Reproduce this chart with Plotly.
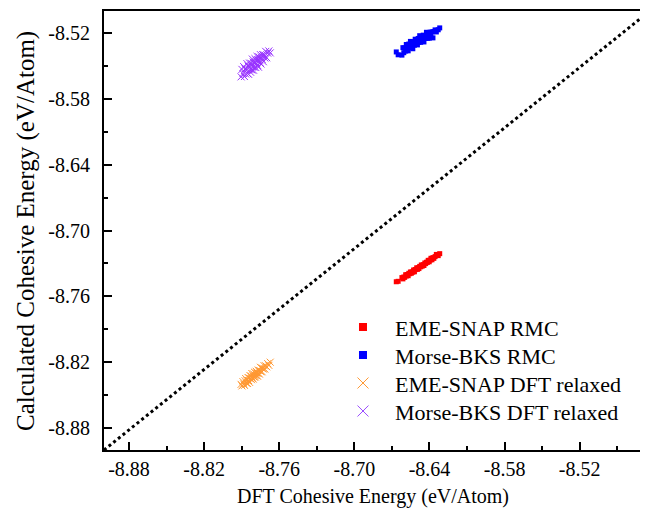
import plotly.graph_objects as go

# ---- data ----
rmc_dft_x = [-8.6665, -8.6650, -8.6620, -8.6612, -8.6605, -8.6598, -8.6590, -8.6585, -8.6578, -8.6570,
             -8.6565, -8.6558, -8.6552, -8.6545, -8.6540, -8.6533, -8.6527, -8.6520, -8.6514, -8.6508,
             -8.6502, -8.6496, -8.6490, -8.6484, -8.6478, -8.6470, -8.6465, -8.6458, -8.6450, -8.6444,
             -8.6437, -8.6430, -8.6424, -8.6416, -8.6410, -8.6402, -8.6395, -8.6388, -8.6380, -8.6372,
             -8.6365, -8.6355, -8.6345, -8.6330, -8.6318]

eme_snap_rmc_y = [-8.7467, -8.7463, -8.7429, -8.7441, -8.7424, -8.7427, -8.7403, -8.7415, -8.7401, -8.7412,
                  -8.7390, -8.7394, -8.7378, -8.7390, -8.7378, -8.7379, -8.7360, -8.7376, -8.7356, -8.7356,
                  -8.7340, -8.7354, -8.7339, -8.7347, -8.7327, -8.7331, -8.7314, -8.7325, -8.7311, -8.7319,
                  -8.7296, -8.7302, -8.7289, -8.7290, -8.7272, -8.7285, -8.7270, -8.7253, -8.7267, -8.7247,
                  -8.7254, -8.7238, -8.7218, -8.7229, -8.7211]

morse_bks_rmc_y = [-8.5373, -8.5399, -8.5402, -8.5334, -8.5380, -8.5336, -8.5365, -8.5305, -8.5342, -8.5363,
                   -8.5301, -8.5324, -8.5277, -8.5333, -8.5297, -8.5344, -8.5283, -8.5312, -8.5257, -8.5295,
                   -8.5278, -8.5309, -8.5250, -8.5286, -8.5225, -8.5285, -8.5247, -8.5260, -8.5220, -8.5282,
                   -8.5223, -8.5249, -8.5194, -8.5249, -8.5218, -8.5248, -8.5193, -8.5213, -8.5190, -8.5245,
                   -8.5187, -8.5172, -8.5191, -8.5171, -8.5154]

relaxed_dft_x = [-8.7905, -8.7898, -8.7890, -8.7884, -8.7878, -8.7873, -8.7868, -8.7862, -8.7858, -8.7853,
                 -8.7849, -8.7845, -8.7841, -8.7837, -8.7833, -8.7829, -8.7826, -8.7822, -8.7819, -8.7815,
                 -8.7812, -8.7808, -8.7805, -8.7801, -8.7798, -8.7794, -8.7791, -8.7787, -8.7784, -8.7780,
                 -8.7777, -8.7773, -8.7769, -8.7766, -8.7762, -8.7758, -8.7754, -8.7750, -8.7746, -8.7742,
                 -8.7737, -8.7732, -8.7727, -8.7721, -8.7715, -8.7708, -8.7700, -8.7692, -8.7683, -8.7672]

eme_snap_relaxed_y = [-8.8402, -8.8416, -8.8377, -8.8398, -8.8411, -8.8369, -8.8349, -8.8391, -8.8366, -8.8394,
                      -8.8340, -8.8367, -8.8344, -8.8384, -8.8323, -8.8347, -8.8327, -8.8359, -8.8303, -8.8343,
                      -8.8325, -8.8354, -8.8307, -8.8336, -8.8291, -8.8320, -8.8335, -8.8300, -8.8283, -8.8320,
                      -8.8299, -8.8328, -8.8274, -8.8300, -8.8274, -8.8309, -8.8276, -8.8246, -8.8287, -8.8253,
                      -8.8287, -8.8255, -8.8263, -8.8232, -8.8262, -8.8233, -8.8242, -8.8213, -8.8229, -8.8200]

morse_bks_relaxed_y = [-8.5600, -8.5532, -8.5570, -8.5507, -8.5597, -8.5528, -8.5574, -8.5528, -8.5480, -8.5569,
                       -8.5502, -8.5577, -8.5506, -8.5475, -8.5534, -8.5558, -8.5476, -8.5499, -8.5537, -8.5438,
                       -8.5509, -8.5466, -8.5540, -8.5470, -8.5512, -8.5434, -8.5471, -8.5515, -8.5450, -8.5479,
                       -8.5414, -8.5496, -8.5447, -8.5512, -8.5418, -8.5448, -8.5470, -8.5398, -8.5483, -8.5421,
                       -8.5440, -8.5398, -8.5462, -8.5399, -8.5428, -8.5368, -8.5426, -8.5384, -8.5364, -8.5382]

tick_vals = [-8.88, -8.82, -8.76, -8.70, -8.64, -8.58, -8.52]
tick_text = ["-8.88", "-8.82", "-8.76", "-8.70", "-8.64", "-8.58", "-8.52"]

series_names = ["EME-SNAP RMC", "Morse-BKS RMC", "EME-SNAP DFT relaxed", "Morse-BKS DFT relaxed"]
x_title = "DFT Cohesive Energy (eV/Atom)"
y_title = "Calculated Cohesive Energy (eV/Atom)"

X_RANGE = [-8.9, -8.4718]
Y_RANGE = [-8.9, -8.5]
DIAG_END = [-8.464, -8.5]

FONT = "Liberation Serif, Times New Roman, serif"

fig = go.Figure()

# diagonal reference line
fig.add_trace(go.Scatter(x=[X_RANGE[0], DIAG_END[0]], y=[Y_RANGE[0], DIAG_END[1]], mode="lines",
                         line=dict(color="black", width=3, dash="dot"), showlegend=False,
                         hoverinfo="skip"))

# data traces
fig.add_trace(go.Scatter(x=rmc_dft_x, y=eme_snap_rmc_y, mode="markers",
                         marker=dict(symbol="square", size=5, color="#FF0000", line=dict(width=0)),
                         showlegend=False, name=series_names[0]))
fig.add_trace(go.Scatter(x=rmc_dft_x, y=morse_bks_rmc_y, mode="markers",
                         marker=dict(symbol="square", size=5, color="#0000FF", line=dict(width=0)),
                         showlegend=False, name=series_names[1]))
fig.add_trace(go.Scatter(x=relaxed_dft_x, y=eme_snap_relaxed_y, mode="markers",
                         marker=dict(symbol="x-thin-open", size=7, color="#FF7F00",
                                     line=dict(width=1, color="#FF7F00")),
                         opacity=0.8, showlegend=False, name=series_names[2]))
fig.add_trace(go.Scatter(x=relaxed_dft_x, y=morse_bks_relaxed_y, mode="markers",
                         marker=dict(symbol="x-thin-open", size=7, color="#7F00FF",
                                     line=dict(width=1, color="#7F00FF")),
                         opacity=0.8, showlegend=False, name=series_names[3]))

# legend entries (one legend per row for exact row spacing)
leg_styles = [
    dict(symbol="square", size=8, color="#FF0000", line=dict(width=0)),
    dict(symbol="square", size=8, color="#0000FF", line=dict(width=0)),
    dict(symbol="x-thin-open", size=11, color="#FF9933", line=dict(width=1, color="#FF9933")),
    dict(symbol="x-thin-open", size=11, color="#9B4DFF", line=dict(width=1, color="#9B4DFF")),
]
legend_ids = ["legend", "legend2", "legend3", "legend4"]
legend_tops = [0.3275, 0.2637, 0.2000, 0.1362]
for name, st, lid in zip(series_names, leg_styles, legend_ids):
    fig.add_trace(go.Scatter(x=[None], y=[None], mode="markers", marker=st, name=name,
                             showlegend=True, legend=lid))

axis_common = dict(
    showgrid=False, zeroline=False, showline=True, linecolor="black", linewidth=2,
    ticks="inside", ticklen=8, tickwidth=2, tickcolor="black",
    tickvals=tick_vals, ticktext=tick_text,
    tickfont=dict(family=FONT, size=20, color="black"),
    minor=dict(ticks="inside", ticklen=4, tickwidth=2, tickcolor="black", dtick=0.03, tick0=-8.91),
    automargin=False,
)

legend_layout = {}
for lid, top in zip(legend_ids, legend_tops):
    legend_layout[lid] = dict(x=0.4235, y=top, xanchor="left", yanchor="top", bgcolor="rgba(0,0,0,0)",
                              font=dict(family=FONT, size=22, color="black"), itemwidth=54)

fig.update_layout(
    width=632, height=503,
    margin=dict(l=96, r=0, t=3, b=61),
    paper_bgcolor="white", plot_bgcolor="white",
    font=dict(family=FONT, size=20, color="black"),
    xaxis=dict(range=X_RANGE, mirror=True, ticklabelstandoff=0, **axis_common),
    yaxis=dict(range=Y_RANGE, mirror=False, ticklabelstandoff=8, **axis_common),
    showlegend=True,
    annotations=[
        dict(text=x_title, xref="paper", yref="paper", x=0.502, y=0, xanchor="center", yanchor="middle",
             yshift=-46, showarrow=False, font=dict(family=FONT, size=20, color="black")),
        dict(text=y_title, xref="paper", yref="paper", x=0, y=0.499, xanchor="center", yanchor="middle",
             xshift=-78, textangle=-90, showarrow=False, font=dict(family=FONT, size=25, color="black")),
    ],
    **legend_layout,
)

fig.write_html("out.html")
